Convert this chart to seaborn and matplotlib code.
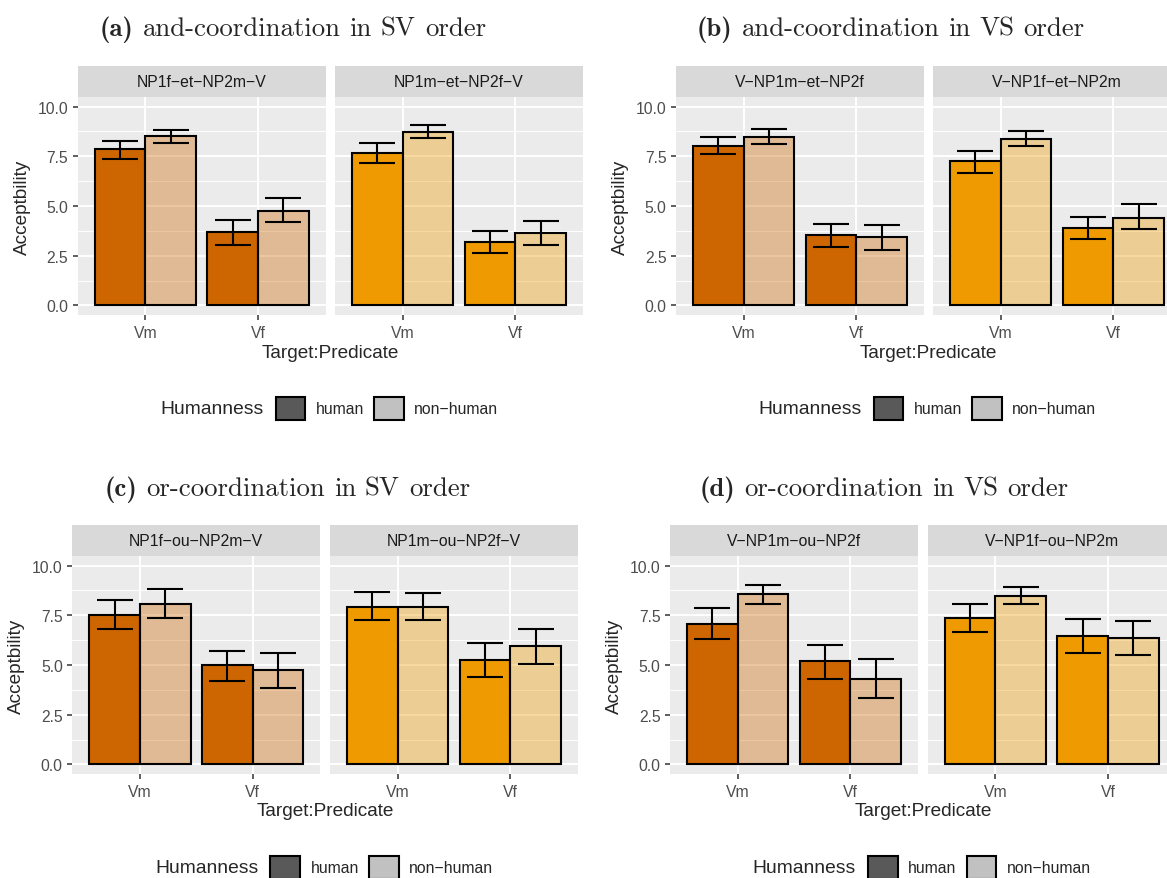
import matplotlib
matplotlib.use("Agg")
import matplotlib.pyplot as plt
import seaborn as sns
import pandas as pd
import numpy as np
from matplotlib.colors import to_rgba
from matplotlib.patches import Patch

sns.set_theme(style="darkgrid")
plt.rcParams['font.family'] = ['Liberation Sans', 'DejaVu Sans']

# ---- data ----
predicates = ["Vm", "Vf"]
humanness = ["human", "non\u2212human"]

facets_a = ["NP1f\u2212et\u2212NP2m\u2212V", "NP1m\u2212et\u2212NP2f\u2212V"]
facets_b = ["V\u2212NP1m\u2212et\u2212NP2f", "V\u2212NP1f\u2212et\u2212NP2m"]
facets_c = ["NP1f\u2212ou\u2212NP2m\u2212V", "NP1m\u2212ou\u2212NP2f\u2212V"]
facets_d = ["V\u2212NP1m\u2212ou\u2212NP2f", "V\u2212NP1f\u2212ou\u2212NP2m"]

# order per facet: Vm-human, Vm-non-human, Vf-human, Vf-non-human
a_mean = [7.86, 8.51, 3.69, 4.77, 7.65, 8.74, 3.18, 3.65]
a_low = [7.39, 8.19, 3.03, 4.17, 7.17, 8.41, 2.63, 3.03]
a_high = [8.29, 8.84, 4.32, 5.38, 8.16, 9.06, 3.72, 4.25]

b_mean = [8.04, 8.49, 3.52, 3.42, 7.24, 8.38, 3.87, 4.42]
b_low = [7.60, 8.12, 2.95, 2.81, 6.68, 8.01, 3.32, 3.82]
b_high = [8.46, 8.86, 4.10, 4.04, 7.79, 8.76, 4.44, 5.08]

c_mean = [7.53, 8.09, 4.98, 4.73, 7.94, 7.93, 5.25, 5.94]
c_low = [6.82, 7.36, 4.21, 3.83, 7.24, 7.24, 4.41, 5.07]
c_high = [8.26, 8.83, 5.72, 5.62, 8.66, 8.60, 6.09, 6.82]

d_mean = [7.07, 8.56, 5.18, 4.31, 7.37, 8.49, 6.44, 6.35]
d_low = [6.29, 8.08, 4.31, 3.33, 6.66, 8.08, 5.59, 5.49]
d_high = [7.88, 9.05, 6.02, 5.28, 8.06, 8.93, 7.29, 7.19]

tags = ["(a)", "(b)", "(c)", "(d)"]
titles = ["and-coordination in SV order", "and-coordination in VS order",
          "or-coordination in SV order", "or-coordination in VS order"]

facet_colors = ["#CD6600", "#EE9A00"]
NONHUMAN_ALPHA = 0.37

# ---- layout (pixels) ----
W, H = 1167, 879
FACET_W = 248.0
STRIP_H = 31.0
PANEL_H = 218.6
fig = plt.figure(figsize=(W / 100, H / 100), dpi=100)
renderer = fig.canvas.get_renderer()


def frac(x0, y0, x1, y1):
    return [x0 / W, 1 - y1 / H, (x1 - x0) / W, (y1 - y0) / H]


def build_df(facets, mean, low, high):
    rows = []
    i = 0
    for f in facets:
        for p in predicates:
            for h in humanness:
                rows.append(dict(Facet=f, Predicate=p, Humanness=h,
                                 mean=mean[i], low=low[i], high=high[i]))
                i += 1
    return pd.DataFrame(rows)


def draw_title(x, baseline, tag, text, size=19.3):
    # bold tag + roman words in Computer Modern, placed word by word
    y = 1 - baseline / H
    t = fig.text(x / W, y, tag, family="cmb10", fontsize=size, va="baseline")
    cur = x + t.get_window_extent(renderer).width
    space = 0.333 * size * 100 / 72
    for word in text.split(" "):
        cur += space
        t = fig.text(cur / W, y, word, family="cmr10", fontsize=size, va="baseline")
        cur += t.get_window_extent(renderer).width


def draw_panel(df, facets, lefts, strip_top, tag, title, title_x, title_base,
               xlab_y, leg_y):
    ax_top = strip_top + STRIP_H
    ax_bot = ax_top + PANEL_H
    for k, (facet, left) in enumerate(zip(facets, lefts)):
        col = facet_colors[k]
        sub = df[df.Facet == facet]

        ax = fig.add_axes(frac(left, ax_top, left + FACET_W, ax_bot))
        sns.barplot(data=sub, x="Predicate", y="mean", hue="Humanness",
                    order=predicates, hue_order=humanness, palette=[col, col],
                    saturation=1, width=0.9, gap=0, errorbar=None,
                    edgecolor="black", linewidth=1.5, legend=False, ax=ax)

        for j, (cont, h) in enumerate(zip(ax.containers, humanness)):
            vals = sub[sub.Humanness == h].set_index("Predicate").loc[predicates]
            xs = []
            for bar in cont:
                if j == 1:
                    bar.set_facecolor(to_rgba(col, NONHUMAN_ALPHA))
                xs.append(bar.get_x() + bar.get_width() / 2)
            m = vals["mean"].values
            ax.errorbar(xs, m, yerr=[m - vals["low"].values, vals["high"].values - m],
                        fmt="none", ecolor="black", elinewidth=1.5,
                        capsize=13.3, capthick=1.5, zorder=4)

        ax.set_facecolor("#EBEBEB")
        ax.set_xlim(-0.6, 1.6)
        ax.set_ylim(-0.5, 10.5)
        yt = [0, 2.5, 5, 7.5, 10]
        ax.set_yticks(yt)
        ax.set_yticklabels([f"{v:.1f}" for v in yt])
        ax.set_yticks([1.25, 3.75, 6.25, 8.75], minor=True)
        ax.grid(which="major", color="white", linewidth=1.4)
        ax.grid(which="minor", axis="y", color="white", linewidth=0.7)
        ax.set_axisbelow(True)
        for s in ax.spines.values():
            s.set_visible(False)
        ax.set_xlabel("")
        ax.set_ylabel("")
        ax.tick_params(which="major", bottom=True, left=(k == 0), labelleft=(k == 0),
                       length=3.3, width=1.1, color="#333333",
                       labelcolor="#4D4D4D", labelsize=11.3, pad=3.5)
        ax.tick_params(which="minor", length=0)

        # facet strip
        sax = fig.add_axes(frac(left, strip_top, left + FACET_W, ax_top))
        sax.set_facecolor("#D9D9D9")
        sax.set_xticks([])
        sax.set_yticks([])
        sax.grid(False)
        for s in sax.spines.values():
            s.set_visible(False)
        sax.text(0.5, 0.5, facet, ha="center", va="center", fontsize=11.3,
                 color="#1A1A1A", transform=sax.transAxes)

    # axis titles
    center = (lefts[0] + lefts[1] + FACET_W) / 2
    fig.text(center / W, 1 - xlab_y / H, "Target:Predicate", ha="center",
             va="center", fontsize=13.7)
    fig.text((lefts[0] - 55.5) / W, 1 - (ax_top + ax_bot) / 2 / H, "Acceptbility",
             rotation=90, ha="center", va="center", fontsize=13.7)

    # legend
    leg_left = center - 170
    fig.text(leg_left / W, 1 - leg_y / H, "Humanness", ha="left", va="center",
             fontsize=13.9)
    handles = [Patch(facecolor="#595959", edgecolor="black", linewidth=1.5),
               Patch(facecolor=to_rgba("#595959", NONHUMAN_ALPHA),
                     edgecolor="black", linewidth=1.5)]
    fig.legend(handles, humanness, loc="center left",
               bbox_to_anchor=((leg_left + 115.3) / W, 1 - leg_y / H),
               ncol=2, frameon=False, fontsize=11.3, handlelength=1.89,
               handleheight=1.89, handletextpad=0.66, columnspacing=0.64,
               borderpad=0, borderaxespad=0)

    draw_title(title_x, title_base, tag, title)


draw_panel(build_df(facets_a, a_mean, a_low, a_high), facets_a, (77.7, 335.0),
           66.7, tags[0], titles[0], 100, 36, 354, 409.3)
draw_panel(build_df(facets_b, b_mean, b_low, b_high), facets_b, (676.0, 933.0),
           66.7, tags[1], titles[1], 697, 36, 354, 409.3)
draw_panel(build_df(facets_c, c_mean, c_low, c_high), facets_c, (72.3, 330.0),
           525.7, tags[2], titles[2], 104.3, 496, 811.7, 868.3)
draw_panel(build_df(facets_d, d_mean, d_low, d_high), facets_d, (670.0, 927.7),
           525.7, tags[3], titles[3], 700, 496, 811.7, 868.3)

fig.savefig("out.png", dpi=100)
